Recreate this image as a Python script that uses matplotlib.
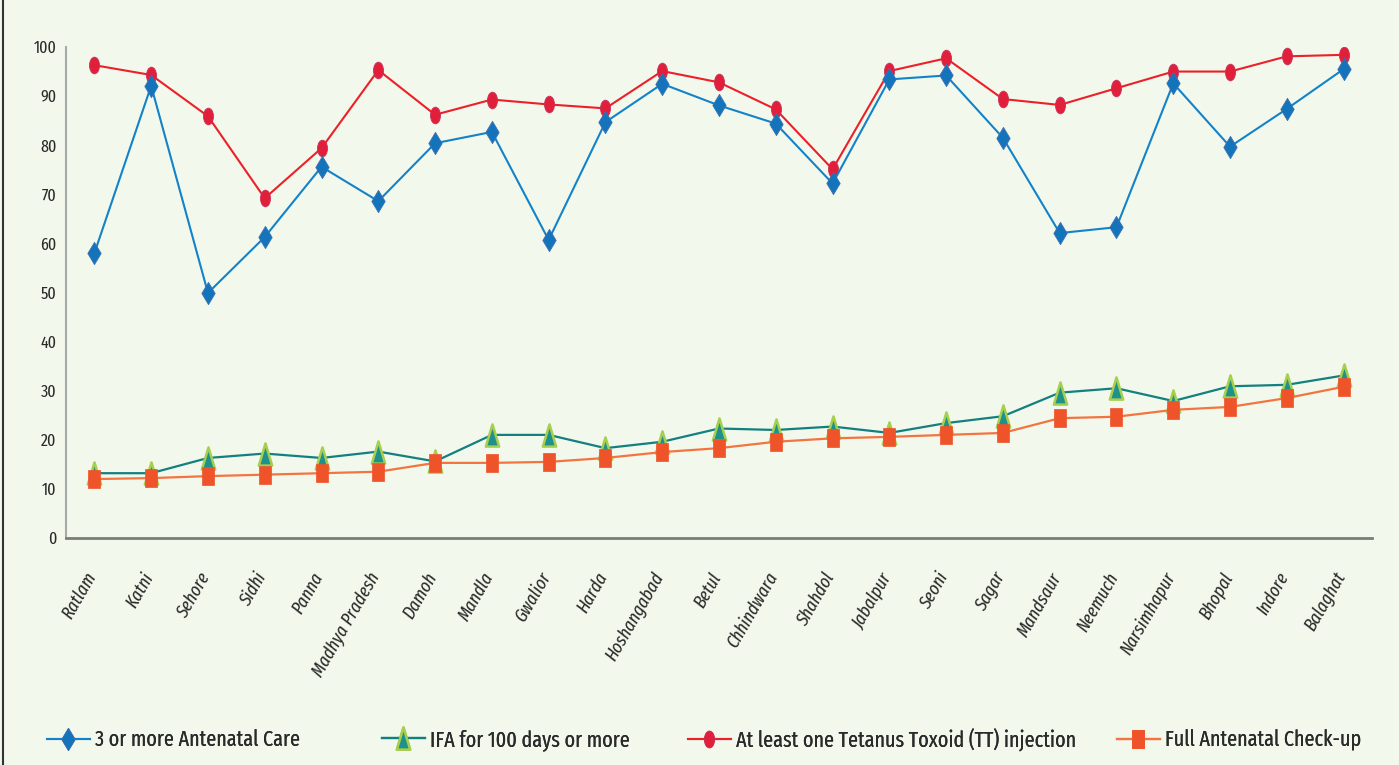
import matplotlib
matplotlib.use("Agg")
import matplotlib.pyplot as plt
import numpy as np
from matplotlib.path import Path
from matplotlib.transforms import Affine2D
from matplotlib.lines import Line2D
import matplotlib.transforms as mtransforms

districts = ["Ratlam", "Katni", "Sehore", "Sidhi", "Panna", "Madhya Pradesh", "Damoh",
             "Mandla", "Gwalior", "Harda", "Hoshangabad", "Betul", "Chhindwara", "Shahdol",
             "Jabalpur", "Seoni", "Sagar", "Mandsaur", "Neemuch", "Narsimhapur", "Bhopal",
             "Indore", "Balaghat"]

anc3 = [58.0, 92.1, 49.9, 61.3, 75.6, 68.6, 80.4, 82.7, 60.7, 84.7, 92.5, 88.1, 84.4,
        72.2, 93.4, 94.2, 81.5, 62.1, 63.3, 92.6, 79.7, 87.4, 95.5]
ifa100 = [13.2, 13.2, 16.3, 17.2, 16.3, 17.6, 15.6, 21.0, 21.0, 18.3, 19.6, 22.3, 22.0,
          22.7, 21.4, 23.4, 24.8, 29.6, 30.5, 27.9, 30.9, 31.2, 33.1]
tt1 = [96.3, 94.3, 85.9, 69.2, 79.4, 95.3, 86.2, 89.3, 88.3, 87.5, 95.1, 92.8, 87.3,
       75.1, 95.1, 97.7, 89.4, 88.2, 91.6, 95.0, 95.0, 98.1, 98.4]
full_anc = [12.0, 12.2, 12.6, 12.9, 13.2, 13.5, 15.3, 15.3, 15.5, 16.3, 17.5, 18.3, 19.6,
            20.3, 20.6, 21.0, 21.4, 24.4, 24.7, 26.1, 26.7, 28.5, 30.8]

series_labels = ["3 or more Antenatal Care", "IFA for 100 days or more",
                 "At least one Tetanus Toxoid (TT) injection", "Full Antenatal Check-up"]
yticks = [0, 10, 20, 30, 40, 50, 60, 70, 80, 90, 100]

BG = "#f3f8ec"
FONT = ["Fira Sans Extra Condensed", "Fira Sans Condensed", "DejaVu Sans"]
TXT = "#2a2a2a"

# narrow (horizontally squeezed) marker shapes
ellipse = Path.unit_circle().transformed(Affine2D().scale(0.6, 1.0))
rect = Path([(-0.3, -0.5), (0.3, -0.5), (0.3, 0.5), (-0.3, 0.5), (-0.3, -0.5)],
            [Path.MOVETO, Path.LINETO, Path.LINETO, Path.LINETO, Path.CLOSEPOLY])
tri = Path([(-0.3, -0.5), (0.3, -0.5), (0.0, 0.5), (-0.3, -0.5)],
           [Path.MOVETO, Path.LINETO, Path.LINETO, Path.CLOSEPOLY])
diam = Path([(0, -0.5), (0.3, 0), (0, 0.5), (-0.3, 0), (0, -0.5)],
            [Path.MOVETO, Path.LINETO, Path.LINETO, Path.LINETO, Path.CLOSEPOLY])

styles = [
    dict(color="#1283c9", marker=diam, markersize=16, markerfacecolor="#1474bb",
         markeredgecolor="#3e6fb0", markeredgewidth=0.6, lw=1.5),
    dict(color="#13807f", marker=tri, markersize=16, markerfacecolor="#1e918c",
         markeredgecolor="#a6cf4f", markeredgewidth=1.8, lw=1.6),
    dict(color="#ec2029", marker=ellipse, markersize=12, markerfacecolor="#e21f3a",
         markeredgecolor="#c8305a", markeredgewidth=0.6, lw=1.5),
    dict(color="#f47440", marker=rect, markersize=13.5, markerfacecolor="#ef532a",
         markeredgecolor="#ef532a", markeredgewidth=0.5, lw=1.6),
]

fig = plt.figure(figsize=(13.99, 7.65), dpi=100, facecolor=BG)
ax = fig.add_axes([66 / 1399, 1 - 538 / 765, (1372 - 66) / 1399, (538 - 47) / 765])
ax.set_facecolor(BG)

x = np.arange(len(districts))
data = [anc3, ifa100, tt1, full_anc]
zorders = [4, 5, 3, 6]
for i in range(4):
    ax.plot(x, data[i], label=series_labels[i], zorder=zorders[i], **styles[i])
handles = [Line2D([0], [0], **styles[i]) for i in range(4)]

ax.set_xlim(-0.5, len(districts) - 0.5)
ax.set_ylim(0, 100)
ax.set_yticks(yticks)
ax.set_yticklabels([str(v) for v in yticks], fontfamily=FONT, fontsize=12.5, color=TXT)
ax.tick_params(axis="y", length=0, pad=7)
ax.tick_params(axis="x", length=0, pad=0)
ax.set_xticks(x)
ax.set_xticklabels(districts, rotation=60, ha="right", va="center", rotation_mode="anchor",
                   fontfamily=FONT, fontstyle="italic", fontsize=13.5, color=TXT)
offset = mtransforms.ScaledTranslation(-2 / 100, -36 / 100, fig.dpi_scale_trans)
for lab in ax.get_xticklabels():
    lab.set_transform(lab.get_transform() + offset)

for s in ["top", "right"]:
    ax.spines[s].set_visible(False)
ax.spines["left"].set_color("#a8aaa8")
ax.spines["left"].set_linewidth(1.5)
ax.spines["bottom"].set_color("#7a7c7a")
ax.spines["bottom"].set_linewidth(2)

# legend entries placed individually
LFS = 15.8
legend_x = [47, 382, 688, 1117]
for i in range(4):
    leg = fig.legend([handles[i]], [series_labels[i]], loc="center left",
                     bbox_to_anchor=(legend_x[i] / 1399, 1 - 740 / 765),
                     frameon=False, handlelength=43 / (LFS * 1.389),
                     handletextpad=5 / (LFS * 1.389),
                     borderpad=0, borderaxespad=0,
                     prop={"family": FONT, "size": LFS})
    for t in leg.get_texts():
        t.set_color(TXT)
    fig.add_artist(leg)

fig.add_artist(Line2D([3 / 1399, 3 / 1399], [0, 1], transform=fig.transFigure,
                      color="#333333", lw=1.5))

fig.savefig("out.png", dpi=100, facecolor=BG)
